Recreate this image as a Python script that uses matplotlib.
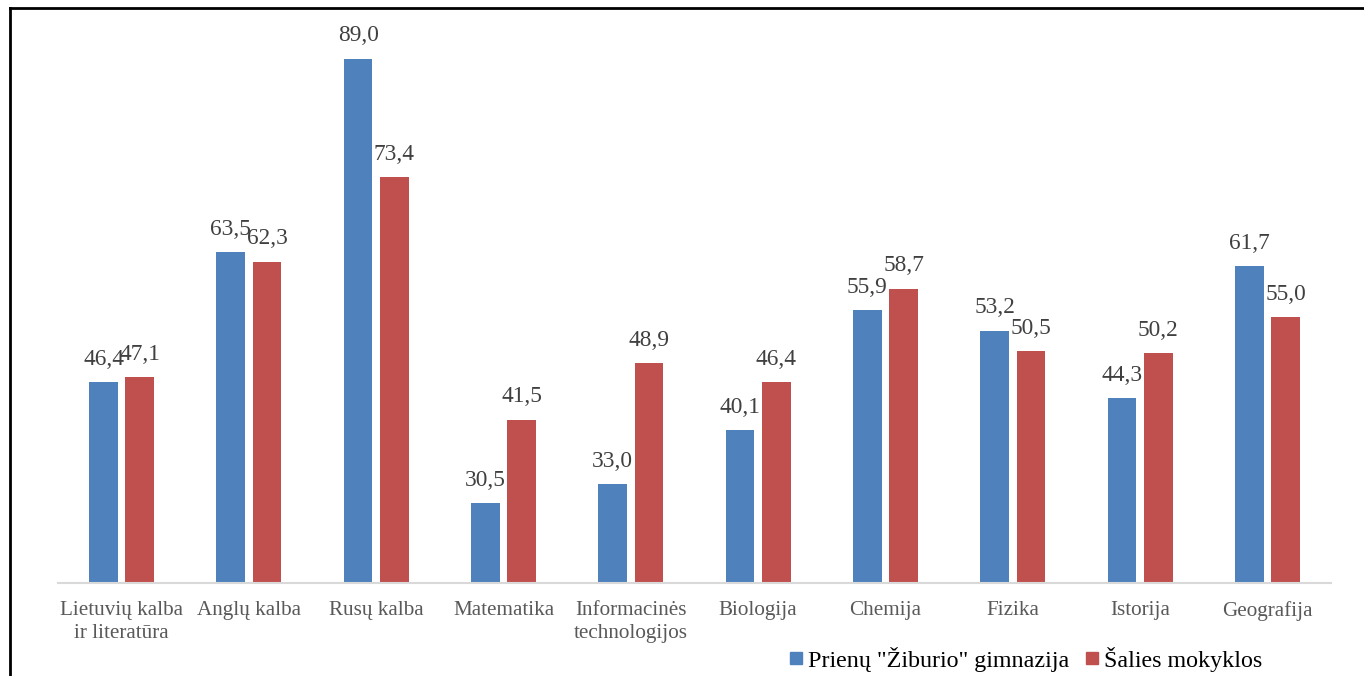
import numpy as np
import matplotlib.pyplot as plt
from matplotlib.lines import Line2D

subjects = ['Lietuvių kalba\nir literatūra', 'Anglų kalba', 'Rusų kalba', 'Matematika',
            'Informacinės\ntechnologijos', 'Biologija', 'Chemija', 'Fizika', 'Istorija', 'Geografija']
school = [46.4, 63.5, 89.0, 30.5, 33.0, 40.1, 55.9, 53.2, 44.3, 61.7]
country = [47.1, 62.3, 73.4, 41.5, 48.9, 46.4, 58.7, 50.5, 50.2, 55.0]
series_names = ['Prienų "Žiburio" gimnazija', 'Šalies mokyklos']

plt.rcParams['font.family'] = ['Liberation Serif', 'DejaVu Serif']

W, H = 1364, 676
fig = plt.figure(figsize=(W / 100, H / 100), dpi=100)
ax = fig.add_axes([58 / W, (H - 583) / H, (1331 - 58) / W, (583 - 51) / H])

x = np.arange(len(subjects))
bw = 0.225
gap = 0.06
off = (bw + gap) / 2
b1 = ax.bar(x - off, school, bw, color='#4F81BD')
b2 = ax.bar(x + off, country, bw, color='#C0504D')

# value labels, comma as decimal mark
for bars, vals in ((b1, school), (b2, country)):
    for rect, v in zip(bars, vals):
        ax.annotate(f'{v:.1f}'.replace('.', ','),
                    (rect.get_x() + rect.get_width() / 2, v),
                    xytext=(0, 9), textcoords='offset points',
                    ha='center', va='bottom', fontsize=16.8, color='#404040')

ax.set_ylim(20, 90)
ax.set_xlim(-0.5, len(subjects) - 0.5)
ax.set_xticks(x)
ax.set_xticklabels(subjects, fontsize=15.2, color='#595959', linespacing=1.25)
ax.tick_params(axis='x', length=0, pad=13)
ax.set_yticks([])
for s in ['top', 'right', 'left']:
    ax.spines[s].set_visible(False)
ax.spines['bottom'].set_color('#D9D9D9')
ax.spines['bottom'].set_linewidth(1.5)

handles = [Line2D([], [], marker='s', linestyle='', color='#4F81BD', markersize=9),
           Line2D([], [], marker='s', linestyle='', color='#C0504D', markersize=9)]
fig.legend(handles, series_names, loc='center', bbox_to_anchor=(1023 / W, 1 - 659 / H),
           ncol=2, frameon=False, fontsize=17.3, handletextpad=0.0, columnspacing=0.45,
           handlelength=1.0)

# outer frame (cropped: only left and top visible)
fig.add_artist(Line2D([9.5 / W, 9.5 / W], [0, 1 - 7.5 / H], color='black', linewidth=2,
                      transform=fig.transFigure))
fig.add_artist(Line2D([9.5 / W, 1], [1 - 7.5 / H, 1 - 7.5 / H], color='black', linewidth=2,
                      transform=fig.transFigure))

fig.savefig('out.png', dpi=100)
